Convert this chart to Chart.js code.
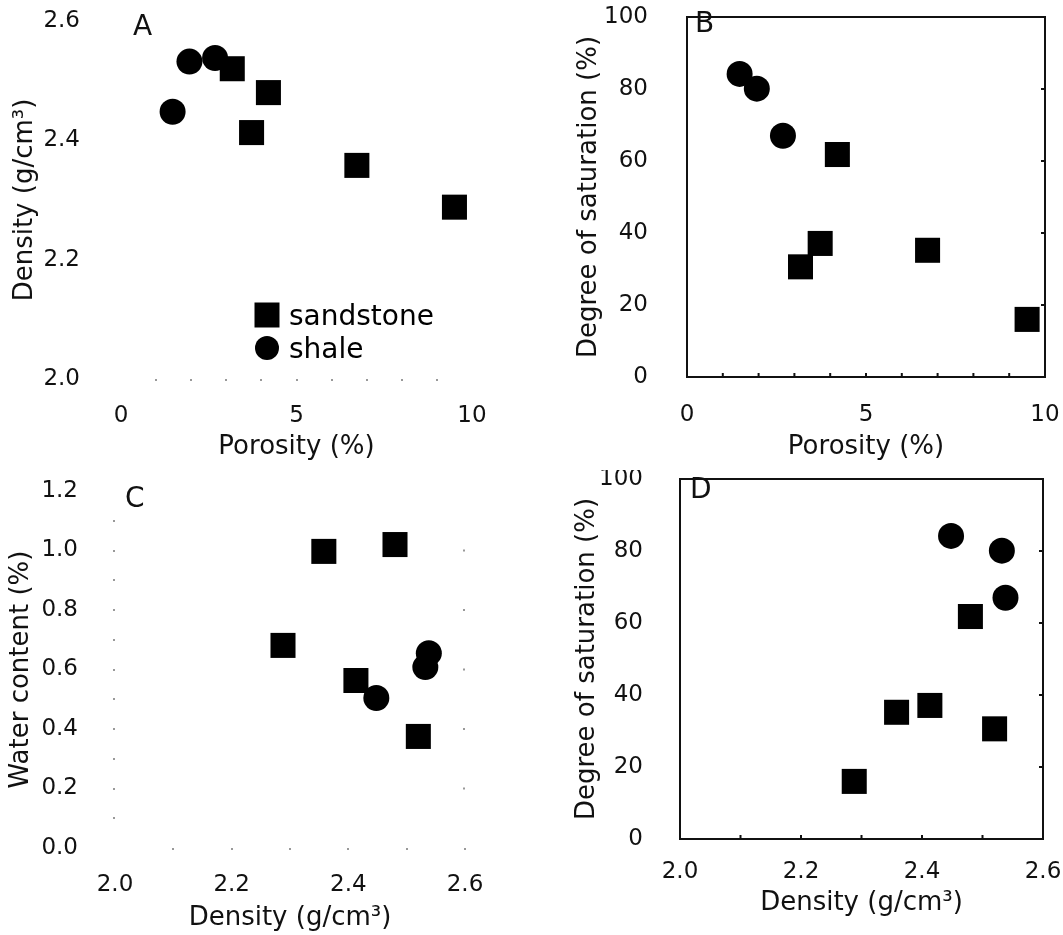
<!DOCTYPE html>
<html>
<head>
<meta charset="utf-8">
<script src="https://cdn.jsdelivr.net/npm/chart.js@4.4.1/dist/chart.umd.min.js"></script>
<style>
  html, body { margin: 0; padding: 0; background: #fff; }
  body { width: 1063px; height: 935px; position: relative; overflow: hidden; }
  canvas { position: absolute; }
</style>
</head>
<body>
<canvas id="chartA" width="530" height="470" style="left:0;top:0"></canvas>
<canvas id="chartB" width="533" height="470" style="left:530px;top:0"></canvas>
<canvas id="chartC" width="530" height="465" style="left:0;top:470px"></canvas>
<canvas id="chartD" width="533" height="465" style="left:530px;top:470px"></canvas>
<script>
// samples (same order in every array of a rock type)
const sandPorosity = [3.17, 4.2, 3.72, 6.72, 9.5];
const sandDensity = [2.52, 2.48, 2.413, 2.358, 2.288];
const sandWater = [0.375, 1.02, 0.563, 0.997, 0.681];
const sandSaturation = [30.6, 61.8, 37.1, 35.2, 16.0];

const shalePorosity = [1.47, 1.95, 2.68];
const shaleDensity = [2.448, 2.532, 2.538];
const shaleWater = [0.504, 0.608, 0.655];
const shaleSaturation = [84.2, 80.1, 67.0];

const seriesNames = ["sandstone", "shale"];

// tick labels
const porosityTicks = [0, 5, 10];
const densityTicks = [2.0, 2.2, 2.4, 2.6];
const waterTicks = [0.0, 0.2, 0.4, 0.6, 0.8, 1.0, 1.2];
const saturationTicks = [0, 20, 40, 60, 80, 100];

Chart.defaults.font.family = "'DejaVu Sans', sans-serif";
Chart.defaults.color = "#111";
Chart.defaults.animation = false;
Chart.defaults.plugins.legend.display = false;
Chart.defaults.plugins.tooltip.enabled = false;

function points(xs, ys) {
  return xs.map((x, i) => ({ x: x, y: ys[i] }));
}

function hasTick(list, v) {
  return list.some(t => Math.abs(t - v) < 1e-6);
}

const oneDecimal = v => v.toFixed(1);
const plain = v => String(Math.round(v));

// box round the plot area + small inward ticks
const framePlugin = {
  id: "frame",
  afterDraw(chart, args, opts) {
    if (!opts || opts.off) return;
    const { ctx, chartArea: a, scales } = chart;
    ctx.save();
    ctx.strokeStyle = opts.color;
    ctx.lineWidth = opts.width;
    if (opts.box) ctx.strokeRect(a.left, a.top, a.right - a.left, a.bottom - a.top);
    ctx.beginPath();
    if (opts.bottom) {
      scales.x.ticks.forEach(t => {
        if (t.value <= scales.x.min + 1e-9 || t.value >= scales.x.max - 1e-9) return;
        const px = scales.x.getPixelForValue(t.value);
        ctx.moveTo(px, a.bottom);
        ctx.lineTo(px, a.bottom - opts.bottom);
      });
    }
    (opts.rightValues || []).forEach(v => {
      const py = scales.y.getPixelForValue(v);
      ctx.moveTo(a.right, py);
      ctx.lineTo(a.right - opts.right, py);
    });
    ctx.stroke();
    ctx.restore();
  }
};

// panel letter
const letterPlugin = {
  id: "letter",
  afterDraw(chart, args, opts) {
    if (!opts || !opts.text) return;
    const { ctx, chartArea: a } = chart;
    ctx.save();
    ctx.fillStyle = "#111";
    ctx.font = "28px 'DejaVu Sans', sans-serif";
    ctx.textBaseline = "alphabetic";
    ctx.fillText(opts.text, a.left + opts.dx, a.top + opts.dy);
    ctx.restore();
  }
};

// legend drawn inside panel A
const keyPlugin = {
  id: "key",
  afterDraw(chart, args, opts) {
    if (!opts || !opts.show) return;
    const { ctx, chartArea: a } = chart;
    ctx.save();
    ctx.fillStyle = "#000";
    ctx.font = "28px 'DejaVu Sans', sans-serif";
    ctx.textBaseline = "alphabetic";
    chart.data.datasets.forEach((ds, i) => {
      const cx = a.left + opts.dx;
      const cy = a.top + opts.dy + i * opts.gap;
      ctx.beginPath();
      if (ds.pointStyle === "rect") {
        ctx.rect(cx - 12.5, cy - 12.5, 25, 25);
      } else {
        ctx.arc(cx, cy, 12, 0, Math.PI * 2);
      }
      ctx.fill();
      ctx.fillText(ds.label, cx + 22, cy + 10);
    });
    ctx.restore();
  }
};

function axis(o) {
  return {
    type: "linear",
    min: o.min,
    max: o.max,
    afterFit: s => {
      // fixed box sizes, no label overflow padding
      if (o.height) s.height = o.height;
      if (o.width) s.width = o.width;
      s.paddingTop = 0;
      s.paddingBottom = 0;
      s.paddingLeft = 0;
      s.paddingRight = 0;
    },
    border: { display: false },
    grid: {
      display: !!o.dots,
      drawOnChartArea: false,
      drawTicks: !!o.dots,
      tickLength: 2,
      lineWidth: 2,
      color: o.dots || "transparent"
    },
    ticks: {
      stepSize: o.step,
      autoSkip: false,
      maxRotation: 0,
      padding: o.pad,
      font: { size: 23 },
      color: "#111",
      callback: v => hasTick(o.labels, v) ? o.fmt(v) : ""
    },
    title: {
      display: true,
      text: o.title,
      font: { size: 26 },
      color: "#111",
      padding: o.titlePad
    }
  };
}

function scatter(id, p) {
  return new Chart(document.getElementById(id), {
    type: "scatter",
    data: {
      datasets: [
        {
          label: seriesNames[0],
          data: points(p.sand[0], p.sand[1]),
          pointStyle: "rect",
          pointRadius: 17.7,
          pointBackgroundColor: "#000",
          pointBorderColor: "#000",
          pointBorderWidth: 0,
          clip: false
        },
        {
          label: seriesNames[1],
          data: points(p.shale[0], p.shale[1]),
          pointStyle: "circle",
          pointRadius: 13,
          pointBackgroundColor: "#000",
          pointBorderColor: "#000",
          pointBorderWidth: 0,
          clip: false
        }
      ]
    },
    options: {
      responsive: false,
      layout: {
        autoPadding: false,
        padding: { left: 0, top: p.top, right: p.right, bottom: 0 }
      },
      scales: { x: p.x, y: p.y },
      plugins: { frame: p.frame || { off: true }, letter: p.letter, key: p.key || { show: false } }
    },
    plugins: [framePlugin, letterPlugin, keyPlugin]
  });
}

// A: density vs porosity
scatter("chartA", {
  sand: [sandPorosity, sandDensity],
  shale: [shalePorosity, shaleDensity],
  top: 21, right: 58,
  x: axis({ min: 0, max: 10, step: 1, labels: porosityTicks, fmt: plain, pad: 21,
    dots: c => (c.tick && c.tick.value > 0 && c.tick.value < 10) ? "#999" : "transparent",
    height: 91, title: "Porosity (%)", titlePad: { top: 0, bottom: 7 } }),
  y: axis({ min: 2.0, max: 2.6, step: 0.2, labels: densityTicks, fmt: oneDecimal, pad: 41,
    width: 121, title: "Density (g/cm³)", titlePad: { top: 10, bottom: 0 } }),
  letter: { text: "A", dx: 12, dy: 14 },
  key: { show: true, dx: 146, dy: 294, gap: 33 }
});

// B: saturation vs porosity
scatter("chartB", {
  sand: [sandPorosity, sandSaturation],
  shale: [shalePorosity, shaleSaturation],
  top: 17, right: 18,
  x: axis({ min: 0, max: 10, step: 1, labels: porosityTicks, fmt: plain, pad: 24,
    height: 93, title: "Porosity (%)", titlePad: { top: 0, bottom: 7 } }),
  y: axis({ min: 0, max: 100, step: 20, labels: saturationTicks, fmt: plain, pad: 39,
    width: 157, title: "Degree of saturation (%)", titlePad: { top: 44, bottom: 0 } }),
  frame: { box: true, color: "#111", width: 2, bottom: 4, right: 4, rightValues: [20, 40, 60, 80] },
  letter: { text: "B", dx: 8, dy: 15 }
});

// C: water content vs density
scatter("chartC", {
  sand: [sandDensity, sandWater],
  shale: [shaleDensity, shaleWater],
  top: 21, right: 65,
  x: axis({ min: 2.0, max: 2.6, step: 0.1, labels: densityTicks, fmt: oneDecimal, pad: 21,
    dots: c => (c.tick && c.tick.value > 2.05) ? "#999" : "transparent",
    height: 87, title: "Density (g/cm³)", titlePad: { top: 0, bottom: 1 } }),
  y: axis({ min: 0, max: 1.2, step: 0.1, labels: waterTicks, fmt: oneDecimal, pad: 35,
    dots: c => (c.tick && c.tick.value > 0.05 && c.tick.value < 1.15) ? "#999" : "transparent",
    width: 115, title: "Water content (%)", titlePad: { top: 6, bottom: 0 } }),
  frame: { box: false, color: "#999", width: 2, bottom: 0, right: 2, rightValues: [0.2, 0.4, 0.6, 0.8, 1.0] },
  letter: { text: "C", dx: 10, dy: 16 }
});

// D: saturation vs density
scatter("chartD", {
  sand: [sandDensity, sandSaturation],
  shale: [shaleDensity, shaleSaturation],
  top: 9, right: 20,
  x: axis({ min: 2.0, max: 2.6, step: 0.1, labels: densityTicks, fmt: oneDecimal, pad: 19,
    height: 96, title: "Density (g/cm³)", titlePad: { top: 0, bottom: 16 } }),
  y: axis({ min: 0, max: 100, step: 20, labels: saturationTicks, fmt: plain, pad: 37,
    width: 150, title: "Degree of saturation (%)", titlePad: { top: 42, bottom: 0 } }),
  frame: { box: true, color: "#111", width: 2, bottom: 4, right: 4, rightValues: [20, 40, 60, 80] },
  letter: { text: "D", dx: 10, dy: 19 }
});
</script>
</body>
</html>
